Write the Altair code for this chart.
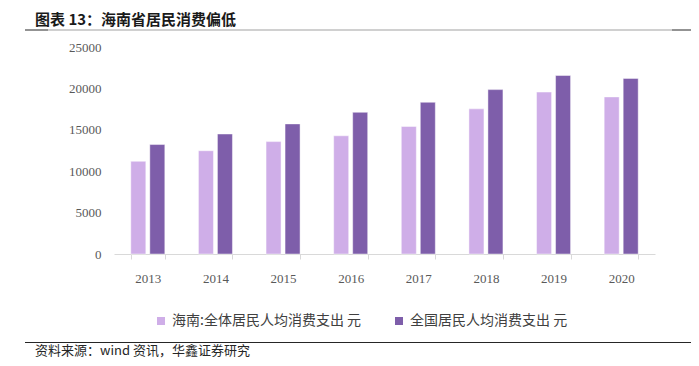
import altair as alt
import pandas as pd

years = ["2013", "2014", "2015", "2016", "2017", "2018", "2019", "2020"]
hainan = [11193, 12471, 13575, 14275, 15403, 17528, 19555, 18972]
national = [13220, 14491, 15712, 17111, 18322, 19853, 21559, 21210]
series = ["海南:全体居民人均消费支出 元", "全国居民人均消费支出 元"]
colors = ["#CFAEE8", "#7E5EAA"]
title_text = "图表 13：海南省居民消费偏低"
source_text = "资料来源：wind 资讯，华鑫证券研究"

rows = []
for i, y in enumerate(years):
    rows.append({"year": y, "series": series[0], "value": hainan[i]})
    rows.append({"year": y, "series": series[1], "value": national[i]})
df = pd.DataFrame(rows)

W, H = 541, 207
serif = "Liberation Serif"
cjk = "Noto Sans CJK SC"

bars = alt.Chart(df).mark_bar(stroke="#ffffff", strokeWidth=1, strokeOpacity=0.45).encode(
    x=alt.X("year:N", sort=years, title=None,
            scale=alt.Scale(paddingInner=0.497, paddingOuter=0.2485),
            axis=alt.Axis(labelAngle=0, labelFont=serif, labelFontSize=13, labelColor="#595959",
                          domainColor="#d9d9d9", tickColor="#d9d9d9", tickSize=5,
                          tickBand="extent", labelPadding=13, grid=False)),
    xOffset=alt.XOffset("series:N", sort=series,
                        scale=alt.Scale(paddingInner=0.21, paddingOuter=0)),
    y=alt.Y("value:Q", title=None,
            scale=alt.Scale(domain=[0, 25000]),
            axis=alt.Axis(values=[0, 5000, 10000, 15000, 20000, 25000], format="d",
                          labelFont=serif, labelFontSize=13, labelColor="#595959",
                          domain=False, ticks=False, grid=False, labelPadding=13)),
    color=alt.Color("series:N", sort=series,
                    scale=alt.Scale(domain=series, range=colors),
                    legend=alt.Legend(title=None, orient="none", legendX=40, legendY=267,
                                      direction="horizontal", symbolType="square",
                                      symbolSize=64, symbolStrokeWidth=0,
                                      labelFont=cjk, labelFontSize=14, labelColor="#404040",
                                      columnPadding=30, labelLimit=400)),
)

title = alt.Chart(pd.DataFrame({"t": [title_text]})).mark_text(
    align="left", baseline="middle", font=cjk, fontSize=15, fontWeight="bold", color="#1a1a1a"
).encode(x=alt.value(-79), y=alt.value(-27.5), text="t:N")

source = alt.Chart(pd.DataFrame({"t": [source_text]})).mark_text(
    align="left", baseline="middle", font=cjk, fontSize=13, color="#262626"
).encode(x=alt.value(-79), y=alt.value(303.5), text="t:N")

top_line = alt.Chart(pd.DataFrame({"a": [0]})).mark_rule(color="#c0c0c0", strokeWidth=1.5).encode(
    x=alt.value(-89), x2=alt.value(582), y=alt.value(-17))
top_l = alt.Chart(pd.DataFrame({"a": [0]})).mark_rule(color="#7f7f7f", strokeWidth=1.5).encode(
    x=alt.value(-89), x2=alt.value(-66), y=alt.value(-17))
top_r = alt.Chart(pd.DataFrame({"a": [0]})).mark_rule(color="#7f7f7f", strokeWidth=1.5).encode(
    x=alt.value(558), x2=alt.value(582), y=alt.value(-17))
bottom_line = alt.Chart(pd.DataFrame({"a": [0]})).mark_rule(color="#262626", strokeWidth=1.2).encode(
    x=alt.value(-89), x2=alt.value(585), y=alt.value(295.5))

chart = alt.layer(bars, title, source, top_line, top_l, top_r, bottom_line).properties(
    width=W, height=H,
    autosize=alt.AutoSizeParams(type="none"),
    padding={"left": 106, "top": 39, "right": 36, "bottom": 104},
    background="#ffffff",
).configure_view(stroke=None)

chart.save("out.html", embed_options={"renderer": "svg", "actions": False})
